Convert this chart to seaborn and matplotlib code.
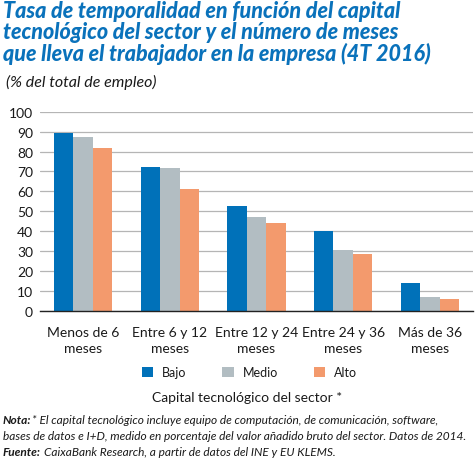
import matplotlib
matplotlib.use("Agg")
import matplotlib.pyplot as plt
import seaborn as sns
import pandas as pd

categories = ["Menos de 6\nmeses", "Entre 6 y 12\nmeses", "Entre 12 y 24\nmeses",
              "Entre 24 y 36\nmeses", "Más de 36\nmeses"]
series_names = ["Bajo", "Medio", "Alto"]
bajo = [89.5, 72.2, 52.5, 40.2, 14.0]
medio = [87.3, 71.7, 47.0, 30.5, 7.1]
alto = [82.0, 61.0, 44.0, 28.7, 6.0]
yticks = [0, 10, 20, 30, 40, 50, 60, 70, 80, 90, 100]
colors = ["#0071b9", "#b2bdc2", "#f39a6d"]

rows = []
for name, vals in zip(series_names, [bajo, medio, alto]):
    for c, v in zip(categories, vals):
        rows.append({"cat": c, "serie": name, "val": v})
df = pd.DataFrame(rows)

sns.set_theme(style="white")
plt.rcParams["font.family"] = ["Lato", "DejaVu Sans"]
txt = "#1a1a1a"

fig = plt.figure(figsize=(4.75, 4.64), dpi=100)
ax = fig.add_axes([0.084, 0.3276, 0.912, 0.4295])
sns.barplot(data=df, x="cat", y="val", hue="serie", palette=colors,
            width=0.675, gap=0, saturation=1, ax=ax, legend=True,
            edgecolor="none")
ax.set_ylim(0, 100)
ax.set_xlim(-0.5, len(categories) - 0.5)
ax.set_yticks(yticks)
ax.set_yticklabels([str(t) for t in yticks], fontsize=10, color=txt)
ax.yaxis.grid(True, color="#b5b5b5", linewidth=0.9)
ax.set_axisbelow(True)
for s in ["left", "right", "top"]:
    ax.spines[s].set_visible(False)
ax.spines["bottom"].set_color("#222222")
ax.spines["bottom"].set_linewidth(1.0)
ax.set_xlabel("")
ax.set_ylabel("")
ax.tick_params(axis="y", length=0, pad=5)
ax.set_xticks(range(len(categories)))
ax.set_xticklabels([""] * len(categories))
ax.tick_params(axis="x", length=0)
for i, c in enumerate(categories):
    for j, line in enumerate(c.split("\n")):
        ax.annotate(line, xy=(i, 0), xycoords=("data", "axes fraction"),
                    xytext=(0, -10.5 - 11.8 * j), textcoords="offset points",
                    ha="center", va="top", fontsize=10, color=txt)
ax.set_xticks([i - 0.5 for i in range(len(categories) + 1)], minor=True)
ax.tick_params(axis="x", which="minor", length=5, width=1.0, color="#222222", direction="out")

handles, labels = ax.get_legend_handles_labels()
ax.legend(handles, labels, loc="center", bbox_to_anchor=(0.525, 0.196),
          bbox_transform=fig.transFigure, ncol=3, frameon=False,
          handlelength=0.9, handleheight=0.9, columnspacing=2.9,
          handletextpad=0.7, fontsize=9, labelcolor=txt)

fig.text(0.52, 0.142, "Capital tecnológico del sector *", ha="center", va="center",
         fontsize=10, color=txt)

title = ("Tasa de temporalidad en función del capital\n"
         "tecnológico del sector y el número de meses\n"
         "que lleva el trabajador en la empresa (4T 2016)")
fig.text(0.006, 0.997, title, ha="left", va="top", fontsize=15.5, fontweight="black",
         fontstyle="italic", color="#0a72bb", linespacing=0.98)
fig.text(0.013, 0.822, "(% del total de empleo)", ha="left", va="center",
         fontsize=11.5, fontstyle="italic", color=txt)

nota_y = 0.093
fs = 8.6
fig.text(0.006, nota_y, "Nota:", ha="left", va="center", fontsize=fs,
         fontstyle="italic", fontweight="bold", color=txt)
fig.text(0.068, nota_y,
         "* El capital tecnológico incluye equipo de computación, de comunicación, software,",
         ha="left", va="center", fontsize=fs, fontstyle="italic", color=txt)
fig.text(0.006, nota_y - 0.034,
         "bases de datos e I+D, medido en porcentaje del valor añadido bruto del sector. Datos de 2014.",
         ha="left", va="center", fontsize=fs, fontstyle="italic", color=txt)
fig.text(0.006, nota_y - 0.068, "Fuente:", ha="left", va="center", fontsize=fs,
         fontstyle="italic", fontweight="bold", color=txt)
fig.text(0.092, nota_y - 0.068, "CaixaBank Research, a partir de datos del INE y EU KLEMS.",
         ha="left", va="center", fontsize=fs, fontstyle="italic", color=txt)

fig.savefig("out.png", dpi=100)
